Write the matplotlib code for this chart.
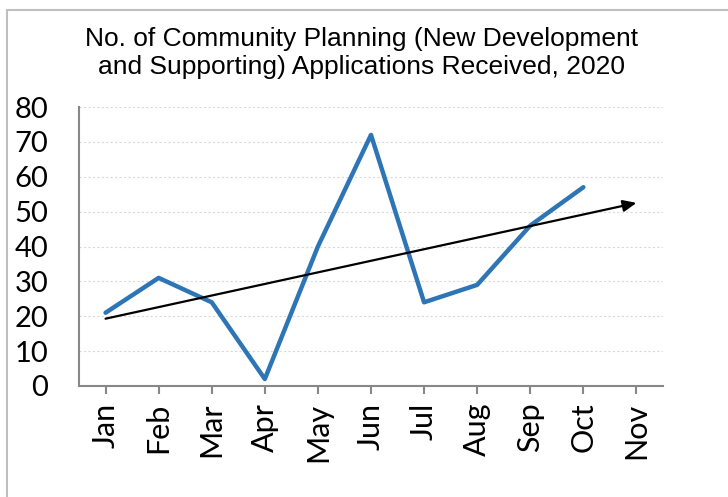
import numpy as np
import matplotlib.pyplot as plt
from matplotlib.patches import Rectangle

months = ['Jan', 'Feb', 'Mar', 'Apr', 'May', 'Jun', 'Jul', 'Aug', 'Sep', 'Oct', 'Nov']
applications = [21, 31, 24, 2, 40, 72, 24, 29, 46, 57]
trend_start = 19.3
trend_end = 52.5
title = 'No. of Community Planning (New Development\nand Supporting) Applications Received, 2020'

fig = plt.figure(figsize=(7.28, 4.97), dpi=100)
fig.patches.append(Rectangle((7 / 728, -0.1), 1.2, 1 - 10 / 497 + 0.1, transform=fig.transFigure,
                             fill=False, edgecolor='#BFBFBF', linewidth=1.5))
ax = fig.add_axes([79 / 728, 1 - 386 / 497, (663 - 79) / 728, (386 - 107) / 497])

x = np.arange(len(months))
ax.plot(x[:len(applications)], applications, color='#2E75B6', linewidth=3.2,
        solid_capstyle='round', solid_joinstyle='round', zorder=3)
ax.annotate('', xy=(x[-1], trend_end), xytext=(x[0], trend_start),
            arrowprops=dict(arrowstyle='-|>,head_length=0.8,head_width=0.35', color='black',
                            lw=1.6, shrinkA=0, shrinkB=0), zorder=4)

ax.set_xlim(-0.5, len(months) - 0.5)
ax.set_ylim(0, 80)
ax.set_xticks(x)
ax.set_xticklabels(months, rotation=90, fontsize=22, family='Lato')
ax.set_yticks(np.arange(0, 81, 10))
ax.set_yticks([0, 80], minor=True)
for lab in ax.get_yticklabels():
    lab.set_family('Lato')
    lab.set_fontsize(21)
ax.tick_params(axis='y', which='major', length=0, pad=22)
ax.tick_params(axis='y', which='minor', length=8, width=1.5, color='#888888')
ax.tick_params(axis='x', length=6, width=1.5, color='#888888', pad=6)
ax.grid(axis='y', color='#D9D9D9', linestyle=(0, (2, 2)), linewidth=0.8)
ax.set_axisbelow(True)
for s in ['top', 'right']:
    ax.spines[s].set_visible(False)
for s in ['left', 'bottom']:
    ax.spines[s].set_color('#888888')
    ax.spines[s].set_linewidth(1.5)

fig.text(362 / 728, 1 - 53 / 497, title, ha='center', va='center', fontsize=19,
         family='Liberation Sans', linespacing=1.22)

fig.savefig('out.png', dpi=100)
